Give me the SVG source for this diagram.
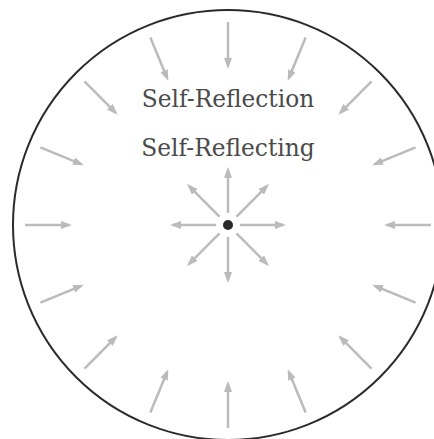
<svg xmlns="http://www.w3.org/2000/svg" width="434" height="439" viewBox="0 0 434 439">
<style>
.ar{stroke:#bbbbbb;stroke-width:2.5;fill:none;marker-end:url(#ah)}
.lbl{font-family:"DejaVu Serif","Liberation Serif",serif;font-size:23.3px;fill:#4a4a4a;text-anchor:middle}
</style>
<defs>
<marker id="ah" markerUnits="userSpaceOnUse" markerWidth="11" markerHeight="8" refX="8" refY="4" orient="auto">
<path d="M0,0 L11,4 L0,8 z" fill="#bbbbbb"/>
</marker>
</defs>
<rect width="434" height="439" fill="#ffffff"/>
<g id="boundary">
<circle cx="228" cy="225" r="215" fill="none" stroke="#2b2b2b" stroke-width="2"/>
</g>
<g id="labels">
<text class="lbl" x="228" y="107">Self-Reflection</text>
<text class="lbl" x="228" y="156">Self-Reflecting</text>
</g>
<g id="center">
<circle cx="228" cy="225" r="5" fill="#2b2b2b"/>
</g>
<g id="connectors">
<line class="ar" x1="431" y1="225" x2="387" y2="225"/>
<line class="ar" x1="415.55" y1="302.68" x2="374.9" y2="285.85"/>
<line class="ar" x1="371.54" y1="368.54" x2="340.43" y2="337.43"/>
<line class="ar" x1="305.68" y1="412.55" x2="288.85" y2="371.9"/>
<line class="ar" x1="228" y1="428" x2="228" y2="384"/>
<line class="ar" x1="150.32" y1="412.55" x2="167.15" y2="371.9"/>
<line class="ar" x1="84.46" y1="368.54" x2="115.57" y2="337.43"/>
<line class="ar" x1="40.45" y1="302.68" x2="81.1" y2="285.85"/>
<line class="ar" x1="25" y1="225" x2="69" y2="225"/>
<line class="ar" x1="40.45" y1="147.32" x2="81.1" y2="164.15"/>
<line class="ar" x1="84.46" y1="81.46" x2="115.57" y2="112.57"/>
<line class="ar" x1="150.32" y1="37.45" x2="167.15" y2="78.1"/>
<line class="ar" x1="228" y1="22" x2="228" y2="66"/>
<line class="ar" x1="305.68" y1="37.45" x2="288.85" y2="78.1"/>
<line class="ar" x1="371.54" y1="81.46" x2="340.43" y2="112.57"/>
<line class="ar" x1="415.55" y1="147.32" x2="374.9" y2="164.15"/>
<line class="ar" x1="240" y1="225" x2="283" y2="225"/>
<line class="ar" x1="236.49" y1="233.49" x2="266.9" y2="263.9"/>
<line class="ar" x1="228" y1="237" x2="228" y2="280"/>
<line class="ar" x1="219.51" y1="233.49" x2="189.1" y2="263.9"/>
<line class="ar" x1="216" y1="225" x2="173" y2="225"/>
<line class="ar" x1="219.51" y1="216.51" x2="189.1" y2="186.1"/>
<line class="ar" x1="228" y1="213" x2="228" y2="170"/>
<line class="ar" x1="236.49" y1="216.51" x2="266.9" y2="186.1"/>
</g>
</svg>
